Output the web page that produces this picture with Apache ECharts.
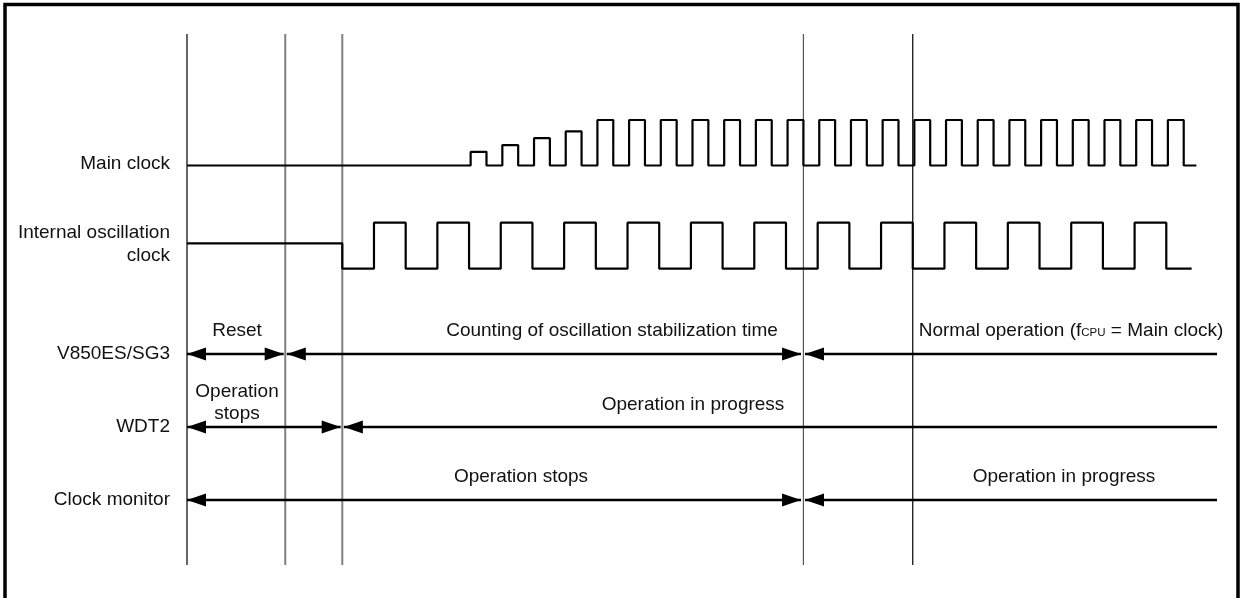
<!DOCTYPE html>
<html>
<head>
<meta charset="utf-8">
<script src="https://cdn.jsdelivr.net/npm/echarts@6/dist/echarts.min.js"></script>
<style>
html,body{margin:0;padding:0;background:#fff;}
#chart{width:1240px;height:598px;}
</style>
</head>
<body>
<div id="chart"></div>
<script>
// ---- data (time in arbitrary units, levels 0..1) ----
var signalNames = ['Main clock', 'Internal oscillation\nclock'];
var stateRows = ['V850ES/SG3', 'WDT2', 'Clock monitor'];

var mainClockTimes = [0,
  17.9, 18.9, 19.9, 20.9, 21.9, 22.9, 23.9, 24.9,
  25.9, 26.9, 27.9, 28.9, 29.9, 30.9, 31.9, 32.9, 33.9, 34.9,
  35.9, 36.9, 37.9, 38.9, 39.9, 40.9, 41.9, 42.9, 43.9, 44.9,
  45.9, 46.9, 47.9, 48.9, 49.9, 50.9, 51.9, 52.9, 53.9, 54.9,
  55.9, 56.9, 57.9, 58.9, 59.9, 60.9, 61.9, 62.9, 63.7];
var mainClockLevels = [0,
  0.3, 0, 0.45, 0, 0.6, 0, 0.75, 0,
  1, 0, 1, 0, 1, 0, 1, 0, 1, 0,
  1, 0, 1, 0, 1, 0, 1, 0, 1, 0,
  1, 0, 1, 0, 1, 0, 1, 0, 1, 0,
  1, 0, 1, 0, 1, 0, 1, 0, 0];

var oscClockTimes = [0, 9.8,
  11.8, 13.8, 15.8, 17.8, 19.8, 21.8, 23.8, 25.8, 27.8, 29.8,
  31.8, 33.8, 35.8, 37.8, 39.8, 41.8, 43.8, 45.8, 47.8, 49.8,
  51.8, 53.8, 55.8, 57.8, 59.8, 61.8, 63.4];
var oscClockLevels = [0.55, 0,
  1, 0, 1, 0, 1, 0, 1, 0, 1, 0,
  1, 0, 1, 0, 1, 0, 1, 0, 1, 0,
  1, 0, 1, 0, 1, 0, 0];

var markerTimes = [0, 6.2, 9.8, 38.9, 45.8];

// state intervals: [start, end, row, arrowAtStart, arrowAtEnd]
var stateStart = [0, 6.3, 39.0, 0, 9.9, 0, 39.0];
var stateEnd   = [6.1, 38.75, 65, 9.7, 65, 38.75, 65];
var stateRow   = ['V850ES/SG3', 'V850ES/SG3', 'V850ES/SG3', 'WDT2', 'WDT2', 'Clock monitor', 'Clock monitor'];
var stateHeadL = [1, 1, 1, 1, 1, 1, 1];
var stateHeadR = [1, 1, 0, 1, 0, 1, 0];

var stateTexts = ['Reset', 'Counting of oscillation stabilization time',
  'Normal operation (f{s|CPU} = Main clock)', 'Operation\nstops',
  'Operation in progress', 'Operation stops', 'Operation in progress'];

var T_MIN = 0, T_MAX = 65;

// ---- chart ----
var FONT = 'Liberation Sans, Arial, Helvetica, sans-serif';
function zip(a, b){ return a.map(function(v,i){ return [v, b[i]]; }); }

var markerStyles = [
  {stroke:'#000', lineWidth:1.2},
  {stroke:'#808080', lineWidth:2},
  {stroke:'#808080', lineWidth:2},
  {stroke:'#555', lineWidth:1.2},
  {stroke:'#000', lineWidth:1.2}
];

var chart = echarts.init(document.getElementById('chart'), null, {renderer:'canvas'});

var gridLeft = 187, gridWidth = 1030;
function xa(i){ return {type:'value', gridIndex:i, min:T_MIN, max:T_MAX, show:false}; }
function ya(i){ return {type:'value', gridIndex:i, min:0, max:1, show:false}; }

var textStyleBase = {fontSize:19, fontFamily:FONT, fill:'#111'};
function txt(str, x, y, align, lh){
  return {type:'text', x:x, y:y, silent:true, style:Object.assign({}, textStyleBase, {
    text:str, align:align, verticalAlign:'middle', lineHeight:lh || 22,
    rich:{s:{fontSize:11.5, fontFamily:FONT, fill:'#111', lineHeight:12, verticalAlign:'bottom', padding:[0,0,3,0]}}
  })};
}

var labelPos = [[237, 331], [612, 331], [1071, 331], [237, 403], [693, 405], [521, 477], [1064, 477]];

var graphics = [
  {type:'rect', silent:true, shape:{x:5, y:4.5, width:1233, height:700}, style:{fill:'none', stroke:'#000', lineWidth:3.5}},
  txt(signalNames[0], 170, 164, 'right'),
  txt(signalNames[1], 170, 244.5, 'right', 22.5)
];
stateTexts.forEach(function(s, i){
  graphics.push(txt(s, labelPos[i][0], labelPos[i][1], 'center'));
});

var option = {
  animation:false,
  backgroundColor:'#fff',
  grid:[
    {left:gridLeft, width:gridWidth, top:120, height:45.5},
    {left:gridLeft, width:gridWidth, top:222.7, height:46},
    {left:gridLeft, width:gridWidth, top:317.5, height:219},
    {left:gridLeft, width:gridWidth, top:34, height:531}
  ],
  xAxis:[xa(0), xa(1), xa(2), xa(3)],
  yAxis:[ya(0), ya(1),
    {type:'category', gridIndex:2, data:stateRows, inverse:true,
     axisLine:{show:false}, axisTick:{show:false}, splitLine:{show:false},
     axisLabel:{margin:17, fontSize:19, fontFamily:FONT, color:'#111'}},
    ya(3)],
  series:[
    {type:'custom', xAxisIndex:3, yAxisIndex:3, silent:true, clip:false,
     data:markerTimes.map(function(t){ return [t, 0]; }),
     encode:{x:0, y:1},
     renderItem:function(params, api){
       var p1 = api.coord([api.value(0), 0]);
       var p2 = api.coord([api.value(0), 1]);
       return {type:'line', shape:{x1:p1[0], y1:p1[1], x2:p2[0], y2:p2[1]},
               style:markerStyles[params.dataIndex]};
     }},
    {type:'line', name:signalNames[0], xAxisIndex:0, yAxisIndex:0, step:'end', symbol:'none', clip:false,
     silent:true, data:zip(mainClockTimes, mainClockLevels), lineStyle:{color:'#000', width:2.2}},
    {type:'line', name:signalNames[1], xAxisIndex:1, yAxisIndex:1, step:'end', symbol:'none', clip:false,
     silent:true, data:zip(oscClockTimes, oscClockLevels), lineStyle:{color:'#000', width:2.2}},
    {type:'custom', xAxisIndex:2, yAxisIndex:2, silent:true, clip:false,
     data:stateStart.map(function(s, i){ return [s, stateEnd[i], stateRow[i], stateHeadL[i], stateHeadR[i]]; }),
     encode:{x:[0,1], y:2},
     renderItem:function(params, api){
       var row = api.value(2);
       var a = api.coord([api.value(0), row]);
       var b = api.coord([api.value(1), row]);
       var y = a[1], L = 19, W = 6.5;
       var ch = [{type:'line', shape:{x1:a[0], y1:y, x2:b[0], y2:y}, style:{stroke:'#000', lineWidth:2.4}}];
       if (api.value(3)) ch.push({type:'polygon', shape:{points:[[a[0], y], [a[0]+L, y-W], [a[0]+L, y+W]]}, style:{fill:'#000'}});
       if (api.value(4)) ch.push({type:'polygon', shape:{points:[[b[0], y], [b[0]-L, y-W], [b[0]-L, y+W]]}, style:{fill:'#000'}});
       return {type:'group', children:ch};
     }}
  ],
  graphic:graphics
};
chart.setOption(option);
</script>
</body>
</html>
